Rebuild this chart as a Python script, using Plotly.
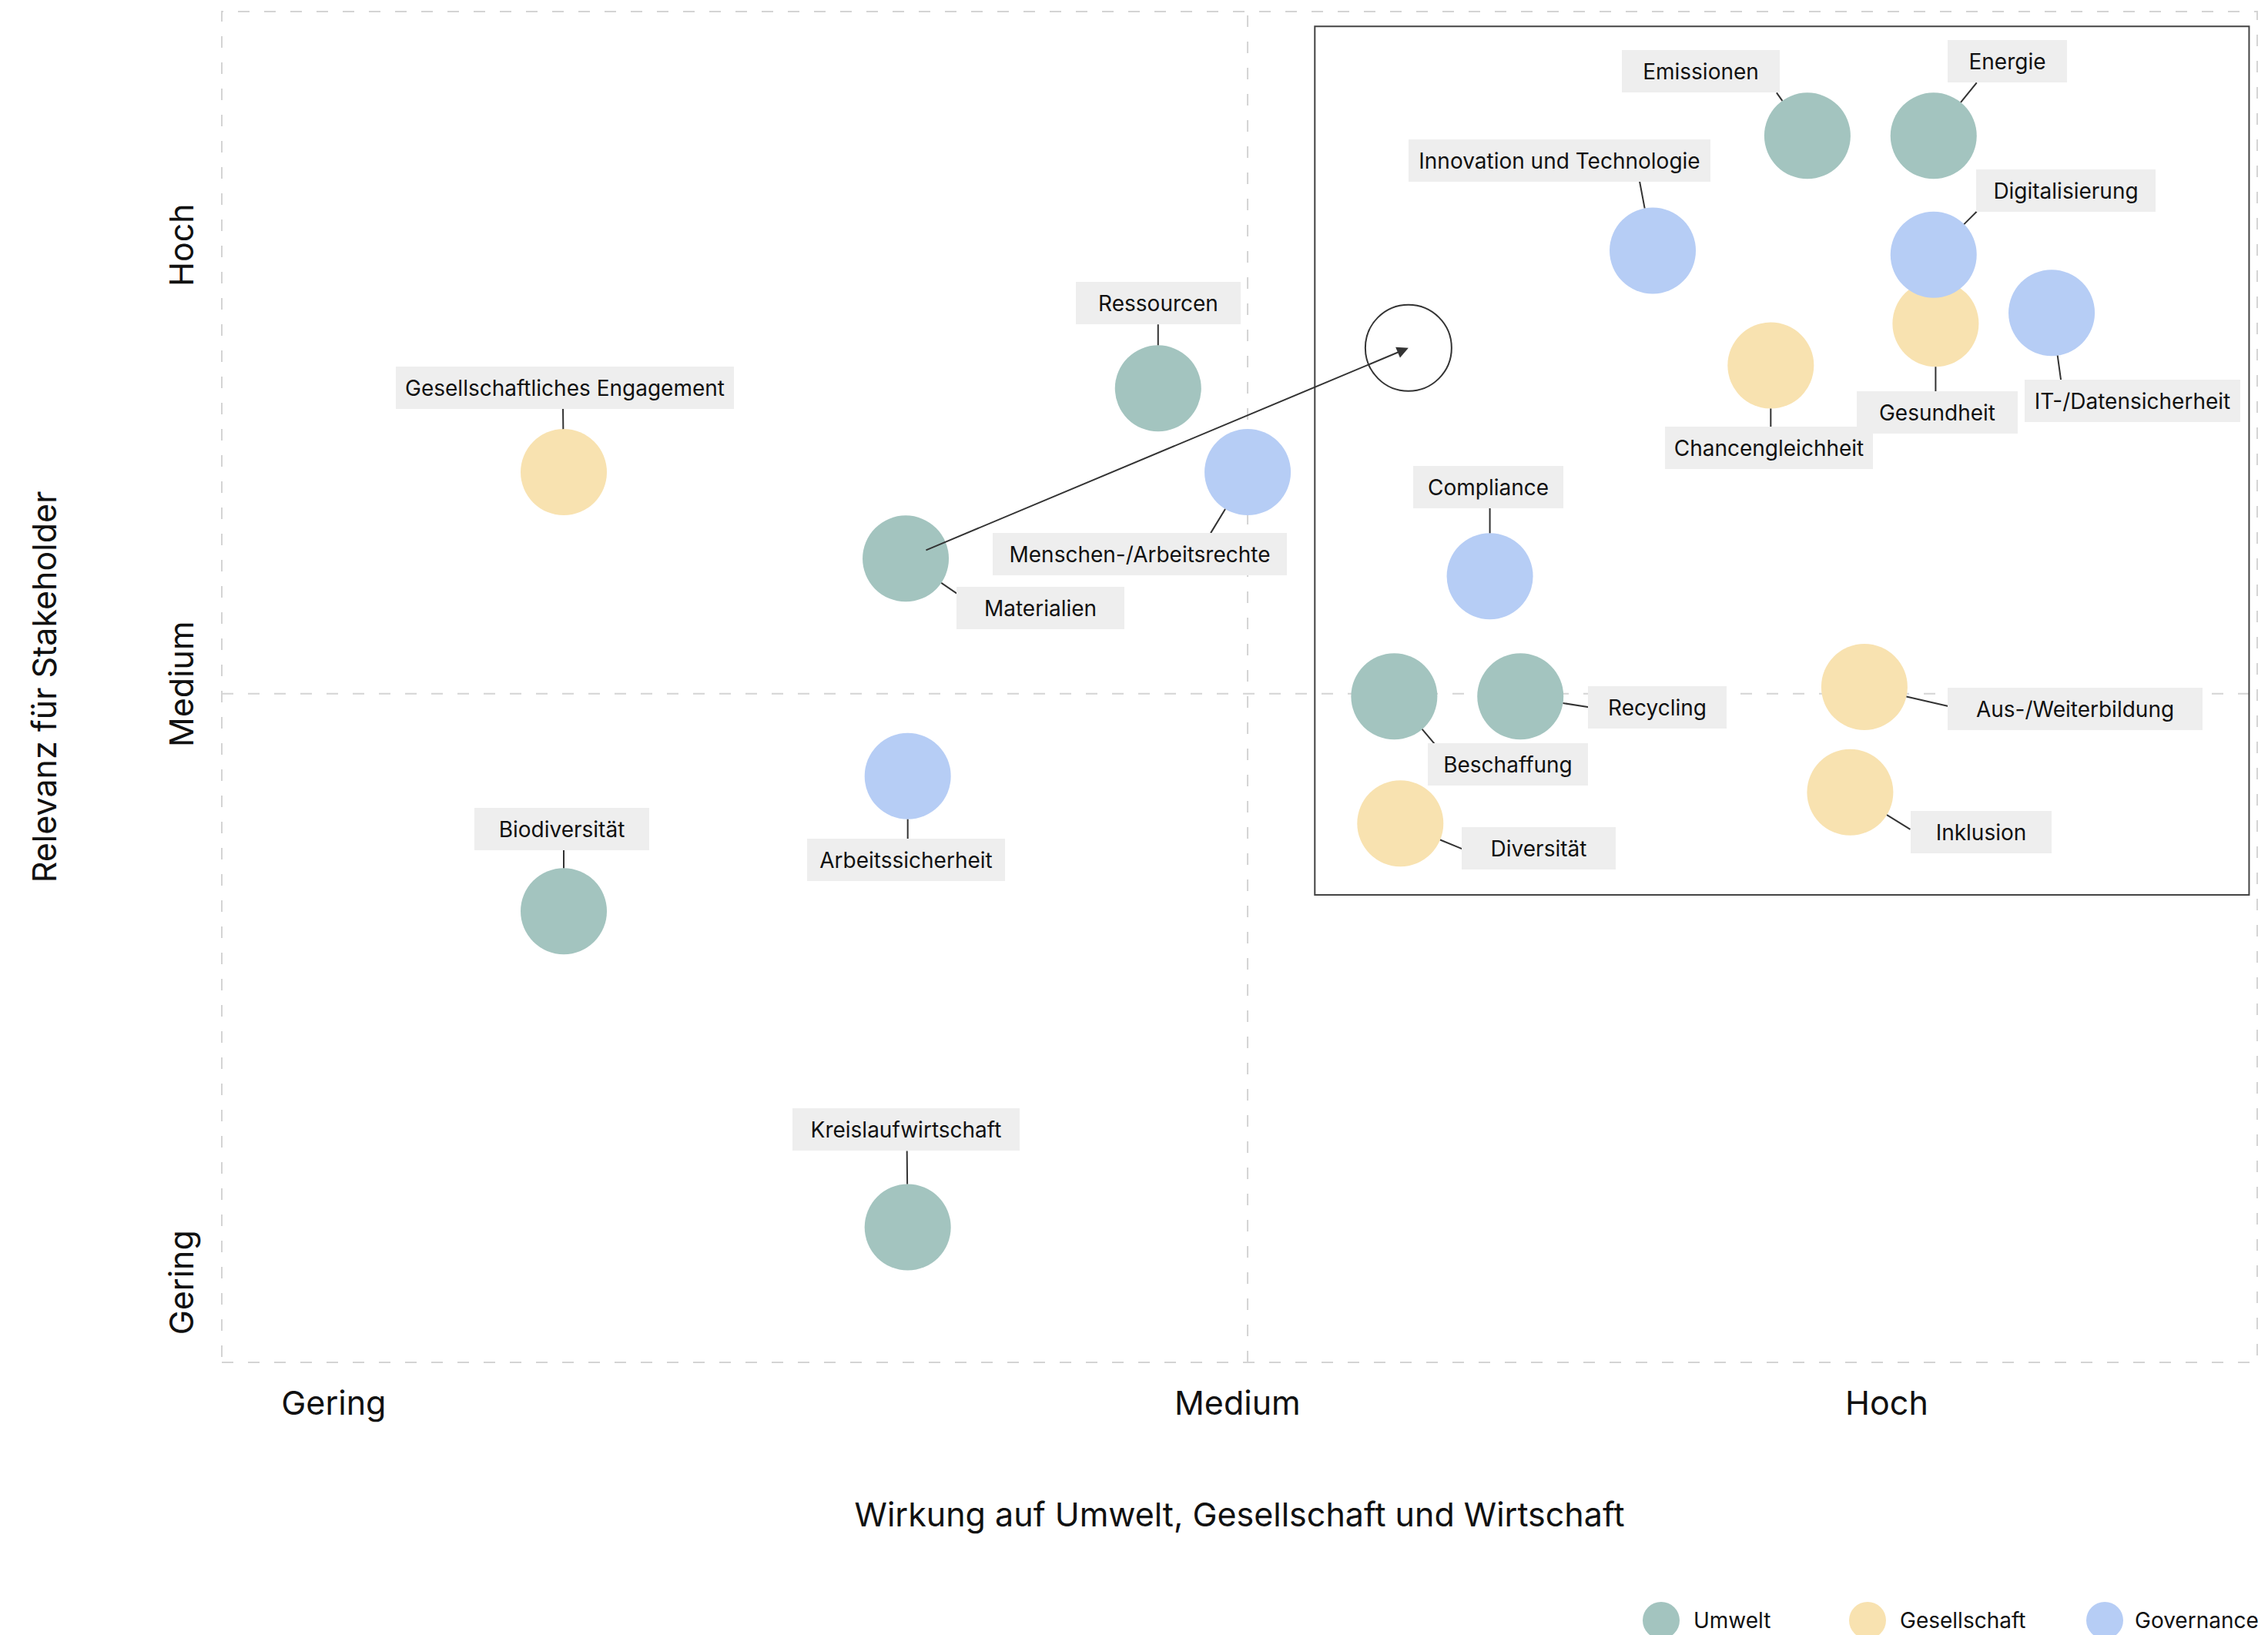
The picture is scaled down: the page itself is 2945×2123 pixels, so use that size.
import plotly.graph_objects as go

# ---------------- data (x: Wirkung, y: Relevanz; scale 0-10) ----------------
umwelt_names = ["Emissionen", "Energie", "Ressourcen", "Materialien", "Beschaffung",
                "Recycling", "Biodiversität", "Kreislaufwirtschaft"]
umwelt_x = [7.79, 8.41, 4.60, 3.36, 5.76, 6.38, 1.68, 3.37]
umwelt_y = [9.08, 9.08, 7.21, 5.95, 4.93, 4.93, 3.34, 1.00]

gesellschaft_names = ["Gesellschaftliches Engagement", "Chancengleichheit", "Gesundheit",
                      "Aus-/Weiterbildung", "Inklusion", "Diversität"]
gesellschaft_x = [1.68, 7.61, 8.42, 8.07, 8.00, 5.79]
gesellschaft_y = [6.59, 7.38, 7.69, 5.00, 4.22, 3.99]

governance_names = ["Innovation und Technologie", "Digitalisierung", "IT-/Datensicherheit",
                    "Compliance", "Menschen-/Arbeitsrechte", "Arbeitssicherheit"]
governance_x = [7.03, 8.41, 8.99, 6.23, 5.04, 3.37]
governance_y = [8.23, 8.20, 7.77, 5.82, 6.59, 4.34]

# movement of "Materialien" to its target position
move_from = ("Materialien", 3.36, 5.95)
move_to_x = [5.83]
move_to_y = [7.51]

# axis tick labels
x_tick_vals = [0.55, 4.99, 8.18]
y_tick_vals = [0.555, 4.985, 8.235]
tick_text = ["Gering", "Medium", "Hoch"]

# quadrant thresholds and highlighted area
x_mid = 5.04
y_mid = 4.95
focus_x = [5.37, 9.96]
focus_y = [3.46, 9.89]

categories = ["Umwelt", "Gesellschaft", "Governance"]
colors = {"Umwelt": "#a3c4bf", "Gesellschaft": "#f8e2b0", "Governance": "#b6cdf5"}

# ---------------- label placement (pixels, relative to circle centre) ---------
# box: centre of the label box; line: point where the leader line meets the box
label_box = {
    "Emissionen": (-138, -84), "Energie": (96, -97), "Ressourcen": (0, -111),
    "Materialien": (175, 64), "Beschaffung": (148, 88), "Recycling": (178, 14),
    "Biodiversität": (-3, -107), "Kreislaufwirtschaft": (-2, -127),
    "Gesellschaftliches Engagement": (1, -110), "Chancengleichheit": (-2, 107),
    "Gesundheit": (2, 115), "Aus-/Weiterbildung": (274, 28), "Inklusion": (170, 52),
    "Diversität": (180, 32), "Innovation und Technologie": (-121, -117),
    "Digitalisierung": (172, -83), "IT-/Datensicherheit": (105, 114),
    "Compliance": (-2, -116), "Menschen-/Arbeitsrechte": (-140, 106),
    "Arbeitssicherheit": (-2, 109),
}
label_box_width = {
    "Emissionen": 205, "Energie": 155, "Ressourcen": 214, "Materialien": 218,
    "Beschaffung": 208, "Recycling": 180, "Biodiversität": 227,
    "Kreislaufwirtschaft": 295, "Gesellschaftliches Engagement": 439,
    "Chancengleichheit": 270, "Gesundheit": 209, "Aus-/Weiterbildung": 331,
    "Inklusion": 183, "Diversität": 200, "Innovation und Technologie": 392,
    "Digitalisierung": 233, "IT-/Datensicherheit": 280, "Compliance": 195,
    "Menschen-/Arbeitsrechte": 382, "Arbeitssicherheit": 257,
}
label_line = {
    "Emissionen": (-40, -56), "Energie": (56, -69), "Ressourcen": (0, -83),
    "Materialien": (66, 45), "Beschaffung": (52, 61), "Recycling": (89, 14),
    "Biodiversität": (0, -81), "Kreislaufwirtschaft": (-1, -99),
    "Gesellschaftliches Engagement": (-1, -83), "Chancengleichheit": (0, 80),
    "Gesundheit": (0, 88), "Aus-/Weiterbildung": (109, 25), "Inklusion": (78, 48),
    "Diversität": (80, 33), "Innovation und Technologie": (-17, -90),
    "Digitalisierung": (56, -56), "IT-/Datensicherheit": (12, 87),
    "Compliance": (0, -90), "Menschen-/Arbeitsrechte": (-48, 79),
    "Arbeitssicherheit": (0, 82),
}

W, H = 2945, 2123
ML, MR, MT, MB = 288, 14, 15, 354
PW, PH = W - ML - MR, H - MT - MB
FONT = "Inter, Roboto, sans-serif"
MARKER = 112
AXFONT = 43
BOX_H = 55
BOX_PAD = 10


def px_to_paper(px, py):
    return (px - ML) / PW, (H - MB - py) / PH


fig = go.Figure()

series = [
    ("Umwelt", umwelt_names, umwelt_x, umwelt_y),
    ("Gesellschaft", gesellschaft_names, gesellschaft_x, gesellschaft_y),
    ("Governance", governance_names, governance_x, governance_y),
]

for cat, names, xs, ys in series:
    fig.add_trace(go.Scatter(
        x=xs, y=ys, mode="markers", name=cat, text=names,
        marker=dict(size=MARKER, color=colors[cat], line=dict(width=0)),
        hovertemplate="%{text}<extra>" + cat + "</extra>",
        showlegend=False,
    ))

# target position (hollow circle)
fig.add_trace(go.Scatter(
    x=move_to_x, y=move_to_y, mode="markers", showlegend=False, hoverinfo="skip",
    marker=dict(size=MARKER, color="rgba(0,0,0,0)", line=dict(width=2, color="#333333")),
))

annotations = []
for cat, names, xs, ys in series:
    for n, x, y in zip(names, xs, ys):
        lx, ly = label_line[n]
        annotations.append(dict(
            x=x, y=y, xref="x", yref="y", ax=lx, ay=ly, axref="pixel", ayref="pixel",
            text="", showarrow=True, arrowhead=0, arrowwidth=2,
            arrowcolor="#333333", standoff=MARKER / 2, borderpad=0, borderwidth=0,
        ))
for cat, names, xs, ys in series:
    for n, x, y in zip(names, xs, ys):
        bx, by = label_box[n]
        annotations.append(dict(
            x=x, y=y, xref="x", yref="y", xshift=bx, yshift=-by,
            xanchor="center", yanchor="middle", align="center", valign="middle",
            width=label_box_width[n] - 2 * BOX_PAD, height=BOX_H - 2 * BOX_PAD,
            text=n, showarrow=False,
            bgcolor="#eeeeee", borderpad=BOX_PAD, borderwidth=0,
            font=dict(family=FONT, size=28, color="#111111"),
        ))

# movement arrow
annotations.append(dict(
    x=move_to_x[0], y=move_to_y[0], xref="x", yref="y",
    ax=move_from[1], ay=move_from[2], axref="x", ayref="y",
    text="", showarrow=True, arrowhead=2, arrowsize=1.5, arrowwidth=2,
    arrowcolor="#333333", startstandoff=27, standoff=0,
))

# manual legend
legend_px = [(2157, 2197), (2425, 2465), (2733, 2770)]
legend_y_px = 2104
shapes = []
for cat, (cx, tx) in zip(categories, legend_px):
    pxc, pyc = px_to_paper(cx, legend_y_px)
    shapes.append(dict(type="circle", xref="paper", yref="paper", xsizemode="pixel",
                       ysizemode="pixel", xanchor=pxc, yanchor=pyc, x0=-24, x1=24,
                       y0=-24, y1=24, fillcolor=colors[cat], line=dict(width=0)))
    ptx, pty = px_to_paper(tx, legend_y_px)
    annotations.append(dict(x=ptx, y=pty, xref="paper", yref="paper", text=cat,
                            showarrow=False, xanchor="left", yanchor="middle",
                            font=dict(family=FONT, size=28, color="#111111")))

grid_line = dict(color="#d4d4d4", width=2, dash="15px,19px")
shapes += [
    dict(type="rect", xref="paper", yref="paper", x0=0, x1=1, y0=0, y1=1,
         line=grid_line, layer="below"),
    dict(type="line", xref="x", yref="paper", x0=x_mid, x1=x_mid, y0=0, y1=1,
         line=grid_line, layer="below"),
    dict(type="line", xref="paper", yref="y", x0=0, x1=1, y0=y_mid, y1=y_mid,
         line=grid_line, layer="below"),
    dict(type="rect", xref="x", yref="y", x0=focus_x[0], x1=focus_x[1],
         y0=focus_y[0], y1=focus_y[1], line=dict(color="#444444", width=2),
         layer="below"),
]

fig.update_layout(
    width=W, height=H, margin=dict(l=ML, r=MR, t=MT, b=MB, autoexpand=False),
    paper_bgcolor="white", plot_bgcolor="white",
    font=dict(family=FONT, size=AXFONT, color="#111111"),
    shapes=shapes, annotations=annotations, showlegend=False,
    xaxis=dict(range=[0, 10], showgrid=False, zeroline=False, showline=False,
               tickmode="array", tickvals=x_tick_vals, ticktext=tick_text, ticks="",
               tickfont=dict(size=AXFONT, color="#111111"), ticklabelstandoff=24,
               title=dict(text="Wirkung auf Umwelt, Gesellschaft und Wirtschaft",
                          font=dict(size=AXFONT, color="#111111"), standoff=105),
               automargin=False, fixedrange=True),
    yaxis=dict(range=[0, 10], showgrid=False, zeroline=False, showline=False,
               tickmode="array", tickvals=y_tick_vals, ticktext=tick_text, ticks="",
               tickangle=-90, tickfont=dict(size=AXFONT, color="#111111"),
               ticklabelstandoff=27,
               title=dict(text="Relevanz für Stakeholder",
                          font=dict(size=AXFONT, color="#111111"), standoff=122),
               automargin=False, fixedrange=True),
)

fig.write_html("out.html")
